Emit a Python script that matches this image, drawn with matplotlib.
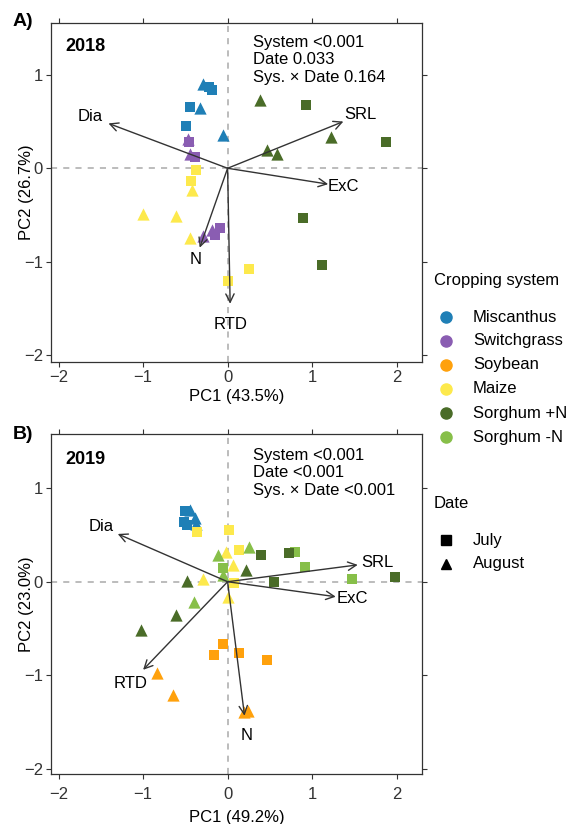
import numpy as np
import matplotlib
matplotlib.use('Agg')
import matplotlib.pyplot as plt
from matplotlib.lines import Line2D

plt.rcParams['font.family'] = ['Liberation Sans', 'DejaVu Sans']

# ______________________ datos ______________________

systems = ['Miscanthus', 'Switchgrass', 'Soybean', 'Maize', 'Sorghum +N', 'Sorghum -N']
colors = ['#1f7fb6', '#8a5db2', '#ffa10c', '#fde94c', '#4a6c28', '#87bf49']
dates = ['July', 'August']

# 2018 scores (S = July, T = August)
sys_2018 = (['Miscanthus'] * 7 + ['Switchgrass'] * 8 + ['Maize'] * 8 + ['Sorghum +N'] * 8)
date_2018 = ['T', 'S', 'S', 'S', 'T', 'S', 'T',
             'T', 'S', 'T', 'S', 'T', 'T', 'S', 'S',
             'S', 'S', 'T', 'T', 'T', 'T', 'S', 'S',
             'T', 'S', 'T', 'S', 'T', 'T', 'S', 'S']
pc1_2018 = [-0.29, -0.22, -0.19, -0.44, -0.33, -0.49, -0.06,
            -0.47, -0.46, -0.45, -0.39, -0.29, -0.19, -0.09, -0.15,
            -0.37, -0.43, -0.42, -1.00, -0.61, -0.45, 0.25, 0.01,
            0.38, 0.93, 1.22, 1.88, 0.47, 0.58, 0.89, 1.12]
pc2_2018 = [0.90, 0.87, 0.84, 0.66, 0.64, 0.45, 0.36,
            0.31, 0.28, 0.15, 0.12, -0.72, -0.66, -0.64, -0.71,
            -0.02, -0.14, -0.23, -0.49, -0.51, -0.75, -1.08, -1.21,
            0.73, 0.68, 0.33, 0.28, 0.20, 0.15, -0.53, -1.03]

# 2019 scores
sys_2019 = (['Miscanthus'] * 6 + ['Maize'] * 8 + ['Sorghum -N'] * 8
            + ['Sorghum +N'] * 8 + ['Soybean'] * 8)
date_2019 = ['S', 'T', 'S', 'T', 'S', 'T',
             'S', 'S', 'T', 'S', 'T', 'T', 'S', 'T',
             'T', 'T', 'S', 'T', 'S', 'S', 'S', 'T',
             'S', 'S', 'T', 'S', 'S', 'T', 'T', 'T',
             'S', 'S', 'S', 'S', 'T', 'T', 'T', 'T']
pc1_2019 = [-0.50, -0.45, -0.52, -0.39, -0.48, -0.37,
            -0.36, 0.02, -0.02, 0.13, 0.06, -0.29, 0.08, 0.01,
            -0.11, 0.25, -0.05, -0.05, 0.80, 0.91, 1.47, -0.40,
            0.39, 0.73, 0.22, 0.55, 1.98, -0.48, -0.61, -1.02,
            -0.06, -0.16, 0.13, 0.47, -0.84, -0.65, 0.19, 0.24]
pc2_2019 = [0.75, 0.77, 0.64, 0.68, 0.61, 0.62,
            0.53, 0.55, 0.32, 0.34, 0.18, 0.03, -0.01, -0.16,
            0.28, 0.37, 0.15, 0.07, 0.32, 0.16, 0.03, -0.22,
            0.28, 0.31, 0.12, 0.00, 0.05, 0.01, -0.36, -0.52,
            -0.66, -0.78, -0.76, -0.84, -0.97, -1.21, -1.39, -1.38]

# loadings (flechas)
vars_names = ['Dia', 'SRL', 'ExC', 'N', 'RTD']
load1_2018 = [-1.41, 1.37, 1.19, -0.33, 0.03]
load2_2018 = [0.48, 0.50, -0.17, -0.85, -1.45]
load1_2019 = [-1.30, 1.54, 1.28, 0.20, -1.00]
load2_2019 = [0.51, 0.18, -0.16, -1.43, -0.94]

stats_2018 = ['System <0.001', 'Date 0.033', 'Sys. \u00d7 Date 0.164']
stats_2019 = ['System <0.001', 'Date <0.001', 'Sys. \u00d7 Date <0.001']

# ______________________ figura ______________________

col_map = dict(zip(systems, colors))
mk_map = {'S': 's', 'T': '^'}
fs = 12
dark = '#333333'


def panel(ax, pc1, pc2, syss, dts, l1, l2, stats, year, xlab, ylab, xpad):
    ax.axhline(0, color='#aaaaaa', ls=(0, (4, 4)), lw=1.1, zorder=1)
    ax.axvline(0, color='#aaaaaa', ls=(0, (4, 4)), lw=1.1, zorder=1)
    for x, y, s, d in zip(pc1, pc2, syss, dts):
        ax.scatter(x, y, marker=mk_map[d], color=col_map[s],
                   s=62 if d == 'S' else 78, linewidths=0, zorder=3)
    for name, lx, ly in zip(vars_names, l1, l2):
        ax.annotate('', xy=(lx, ly), xytext=(0, 0),
                    arrowprops=dict(arrowstyle='->', color=dark, lw=1.0,
                                    mutation_scale=15, shrinkA=0, shrinkB=0),
                    zorder=4)
        ax.text(lx * 1.15, ly * 1.15, name, fontsize=fs, ha='center',
                va='center', color='black', zorder=5)
    ax.text(0.30, 1.43, '\n'.join(stats), fontsize=fs, va='top', ha='left',
            linespacing=1.22)
    ax.text(-1.92, 1.30, year, fontsize=13, fontweight='bold',
            va='center', ha='left')
    ax.set_xlim(-2.09, 2.30)
    ax.set_xticks([-2, -1, 0, 1, 2])
    ax.set_yticks([-2, -1, 0, 1])
    ax.set_xlabel(xlab, fontsize=fs, labelpad=xpad)
    ax.set_ylabel(ylab, fontsize=fs)
    ax.yaxis.set_label_coords(-0.045, 0.5)
    ax.tick_params(axis='both', direction='out', length=3.8, width=0.8,
                   color=dark, labelsize=fs, labelcolor='#333333',
                   top=True, right=True, pad=2)
    for sp in ax.spines.values():
        sp.set_color(dark)
        sp.set_linewidth(0.9)


fig = plt.figure(figsize=(5.69, 8.24), dpi=100)
ax1 = fig.add_axes([0.0896, 0.561, 0.652, 0.4114])
ax2 = fig.add_axes([0.0896, 0.0603, 0.652, 0.4126])

panel(ax1, pc1_2018, pc2_2018, sys_2018, date_2018, load1_2018, load2_2018,
      stats_2018, '2018', 'PC1 (43.5%)', 'PC2 (26.7%)', 3)
ax1.set_ylim(-2.07, 1.557)
panel(ax2, pc1_2019, pc2_2019, sys_2019, date_2019, load1_2019, load2_2019,
      stats_2019, '2019', 'PC1 (49.2%)', 'PC2 (23.0%)', 6)
ax2.set_ylim(-2.055, 1.573)
ax2.tick_params(axis='x', pad=5)

fig.text(0.022, 0.974, 'A)', fontsize=14, fontweight='bold', va='center')
fig.text(0.022, 0.473, 'B)', fontsize=14, fontweight='bold', va='center')

# leyendas (dibujadas a mano en coordenadas de figura)
H = 824.0
x_title, x_mk, x_txt = 434 / 569, 446 / 569, 473 / 569

fig.text(x_title, 1 - 281 / H, 'Cropping system', fontsize=fs, va='center')
for i, (name, c) in enumerate(zip(systems, colors)):
    y = 1 - (317 + 24 * i) / H
    fig.add_artist(Line2D([x_mk], [y], transform=fig.transFigure, marker='o',
                          ls='', color=c, markersize=8))
    fig.text(x_txt, y, name, fontsize=fs, va='center')

fig.text(x_title, 1 - 503 / H, 'Date', fontsize=fs, va='center')
for i, (name, m) in enumerate(zip(dates, ['s', '^'])):
    y = 1 - (540 + 23.5 * i) / H
    fig.add_artist(Line2D([x_mk], [y], transform=fig.transFigure, marker=m,
                          ls='', color='black', markersize=7.5))
    fig.text(x_txt, y, name, fontsize=fs, va='center')

fig.savefig('out.png', dpi=100)
